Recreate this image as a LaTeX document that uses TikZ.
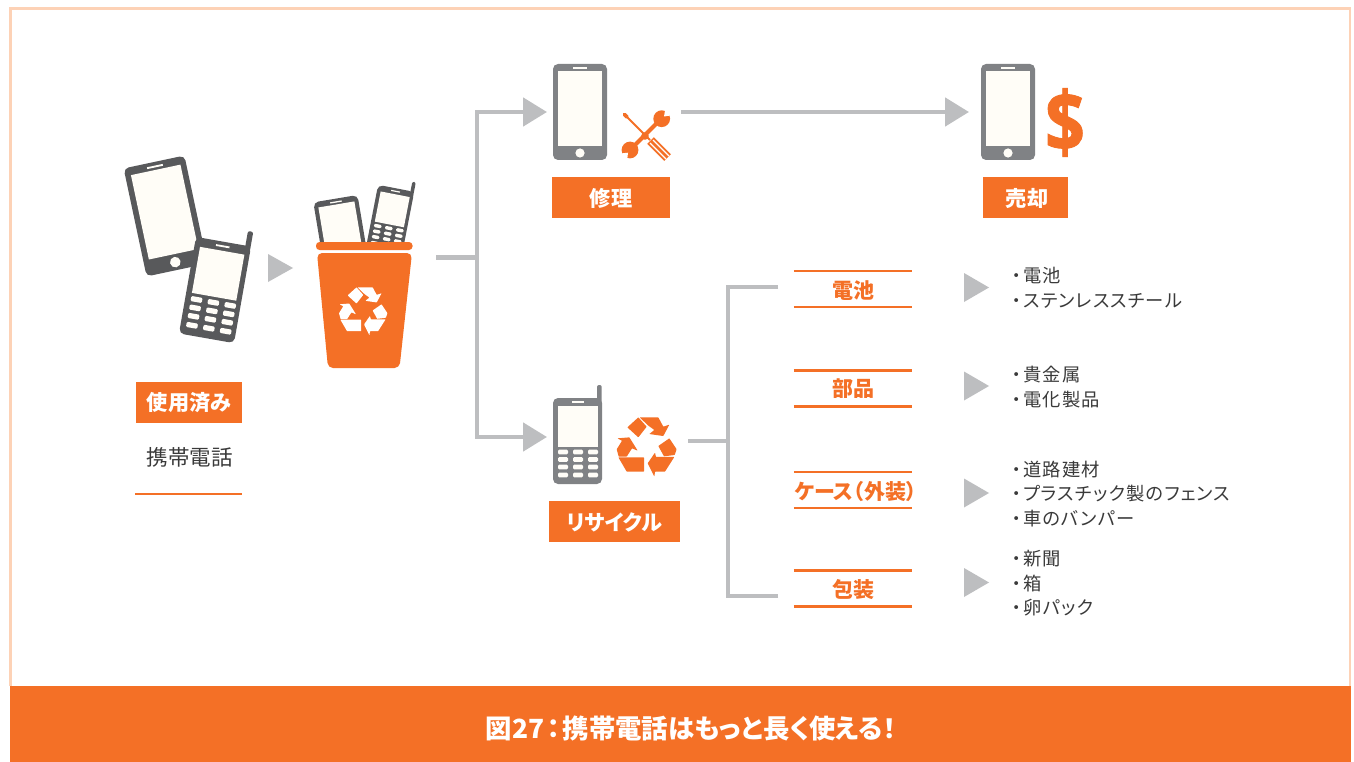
\documentclass[tikz,border=0pt]{standalone}
\usepackage{fontspec}
\setmainfont{Noto Sans CJK JP}[RawFeature=+palt]
\newfontfamily\itemfont{Noto Sans CJK JP}[RawFeature=+palt,LetterSpace=6]
\newfontfamily\dollarfont{Open Sans}[BoldFeatures={FakeBold=1.2}]
\usetikzlibrary{arrows.meta}
\definecolor{brand}{HTML}{F47026}
\definecolor{framec}{HTML}{FDD2B6}
\definecolor{linkc}{HTML}{BDBEC0}
\definecolor{darkph}{HTML}{58595B}
\definecolor{midph}{HTML}{808285}
\definecolor{screenc}{HTML}{FFFDF7}
\definecolor{inkc}{HTML}{3A3A3A}
\newcommand{\lowered}[2]{\raisebox{-#1pt}[0pt][0pt]{#2}}
\newcommand{\itm}[1]{・\kern2pt #1}
\tikzset{
  x=1pt,y=-1pt,
  link/.style={draw=linkc,line width=4.8pt},
  linkarrow/.style={link,-{Triangle[length=24pt,width=28pt]}},
  pointer/.style={fill=linkc},
  tag/.style={fill=brand,text=white,font=\fontsize{21.2}{25}\selectfont\bfseries,inner sep=0pt,minimum height=41pt},
  rule/.style={draw=brand,line width=2.5pt},
  part/.style={text=brand,font=\fontsize{21}{25}\selectfont\bfseries,inner sep=0pt,minimum width=118pt,minimum height=36pt},
  item/.style={text=inkc,font=\itemfont\fontsize{18.3}{22}\selectfont,inner sep=0pt,anchor=west},
  pics/smartphone/.style={code={
    \fill[#1,rounded corners=5pt] (-27,-48) rectangle (27,48);
    \fill[screenc] (-22,-41) rectangle (22,34);
    \fill[screenc] (-7,-44.8) rectangle (7,-43.2);
    \fill[screenc] (0,41) circle (4.6);
  }},
  pics/flipphone/.style={code={
    \fill[#1,rounded corners=2pt] (19.5,-56) rectangle (24.2,-35);
    \fill[#1,rounded corners=5pt] (-24.5,-43) rectangle (24.5,43);
    \fill[screenc] (-19.5,-35) rectangle (20,6);
    \fill[screenc] (-6,-39.8) rectangle (6,-38.2);
    \foreach \kx in {-14.5,0.5,15.5}\foreach \ky in {11,18.5,26,34}{
      \fill[screenc,rounded corners=1.2pt] (\kx-5,\ky-2.3) rectangle (\kx+5,\ky+2.3);
    }
  }},
  pics/recycle/.style={code={
    \begin{scope}[shift={(-111,-108)}]
      \fill[#1,rounded corners=.5pt] (52,52) -- (85,22) -- (110,50) -- (85,82) -- cycle;
      \fill[#1,rounded corners=.5pt] (89,22) -- (145,22) -- (160,50) -- (178,44) -- (160,78) -- (118,72) -- (133,60) -- (114,46) -- cycle;
      \fill[#1,rounded corners=.5pt] (145,108) -- (178,85) -- (200,118) -- (194,135) -- (162,139) -- cycle;
      \fill[#1,rounded corners=.5pt] (193,141) -- (165,185) -- (135,185) -- (133,200) -- (113,160) -- (135,128) -- (138,141) -- cycle;
      \fill[#1,rounded corners=.5pt] (25,142) -- (102,142) -- (102,185) -- (50,185) -- cycle;
      \fill[#1,rounded corners=.5pt] (22,85) -- (58,82) -- (83,122) -- (66,115) -- (50,140) -- (26,140) -- (20,118) -- (36,92) -- cycle;
    \end{scope}
  }}
}
\begin{document}
\begin{tikzpicture}
\useasboundingbox (0,0) rectangle (1354,762);
\fill[white] (0,0) rectangle (1354,762);
% frame and banner
\draw[framec,line width=2.6pt] (10.5,686) -- (10.5,8.5) -- (1350,8.5) -- (1350,686);
\fill[brand] (9.5,685.5) rectangle (1351,762);
\node[text=white,font=\fontsize{26.4}{30}\selectfont\bfseries,inner sep=0pt] (banner) at (691,728.5) {図27\kern3pt：\kern2pt 携帯電話はもっと長く使える！};

% used phones
\pic[rotate=12,scale=1.15] at (165.5,216) {smartphone=darkph};
\pic[rotate=-10,scale=1.14] at (215,290) {flipphone=darkph};
\node[tag,minimum width=106pt] (used) at (189,402.5) {\lowered{8.3}{使用済み}};
\node[text=inkc,font=\fontsize{21.5}{25}\selectfont,inner sep=0pt] (mobile) at (189.5,457) {携帯電話};
\coordinate (ruleL) at (135,494);
\coordinate (ruleR) at (242,494);
\draw[rule] (ruleL) -- (ruleR);
\fill[pointer] (268,254) -- (293,268) -- (268,282) -- cycle;

% bin
\begin{scope}
  \clip (300,170) rectangle (430,243);
  \pic[rotate=9.5,scale=.83] at (342,238) {smartphone=darkph};
  \pic[rotate=-11,scale=.75] at (390,220) {flipphone=darkph};
\end{scope}
\fill[brand,rounded corners=3.5pt] (316,242) rectangle (412.5,250);
\fill[brand,rounded corners=5pt] (317,253) -- (412,253) -- (399.5,368) -- (328,368) -- cycle;
\pic[scale=.269] at (363.5,310.5) {recycle=white};

% connectors
\coordinate (binout) at (436,257.5);
\coordinate (split) at (477,257.5);
\coordinate (repairin) at (547,112);
\coordinate (recyclein) at (547,437);
\coordinate (repairout) at (681,112);
\coordinate (sellin) at (969,112);
\coordinate (recycleout) at (688,441);
\coordinate (split2) at (728,441);
\coordinate (battin) at (778,287);
\coordinate (packin) at (778,596);
\draw[link] (binout) -- (split);
\draw[linkarrow] (split) |- (repairin);
\draw[linkarrow] (split) |- (recyclein);
\draw[linkarrow] (repairout) -- (sellin);
\draw[link] (recycleout) -- (split2);
\draw[link] (battin) -| (split2);
\draw[link] (packin) -| (split2);

% repair
\pic at (580,112) {smartphone=midph};
\draw[brand,line width=2pt] (625,115) -- (650,140);
\draw[brand,line width=3.8pt,line cap=round] (624.5,114.5) -- (627,117);
\draw[brand,line width=9.5pt] (650.5,140.5) -- (667.5,157.5);
\draw[white,line width=1.1pt] (653,140) -- (669,156);
\draw[white,line width=1.1pt] (650,143) -- (666,159);
\draw[brand,line width=4pt] (631,149) -- (660,120);
\fill[brand] (645,136) circle (3.8);
\fill[brand] (630,150) circle (8.4);
\fill[white] (628,152.7) -- (618.5,153.7) -- (626.7,163.7) -- cycle;
\fill[brand] (661.7,118.7) circle (8.4);
\fill[white] (664,116.5) -- (673.5,115) -- (665.5,107.5) -- cycle;
\node[tag,minimum width=118pt] (repair) at (611,197.5) {\lowered{8.8}{修理}};

% sell
\pic at (1008,112) {smartphone=midph};
\node[text=brand,font=\dollarfont\bfseries\fontsize{70}{70}\selectfont,inner sep=0pt] (dollar) at (1065,122.5) {\scalebox{1}[1.19]{\$}};
\node[tag,minimum width=85pt] (sell) at (1025.5,197.5) {\kern3pt\lowered{8.8}{売却}};

% recycle
\pic at (577.5,441) {flipphone=midph};
\pic[scale=.333] at (647,446) {recycle=brand};
\node[tag,minimum width=131pt] (recycling) at (614.5,521.5) {\lowered{8.8}{リサイクル}};

% parts
\node[part] (battery) at (853,289) {\lowered{9.3}{電池}};
\node[part] (parts) at (853,388.5) {\lowered{8.1}{部品}};
\node[part] (case) at (853,490) {\makebox[118pt]{\kern5pt\lowered{9.2}{ケース（外装）}}};
\node[part] (pack) at (853,588.5) {\lowered{9.3}{包装}};
\foreach \n in {battery,parts,case,pack}{
  \draw[rule] (\n.north west) -- (\n.north east);
  \draw[rule] (\n.south west) -- (\n.south east);
}
\foreach \cy in {287.5,386,493,582.5}{
  \fill[pointer] (964,\cy-14.5) -- (989,\cy) -- (964,\cy+14.5) -- cycle;
}
\node[item] (a1) at (1012,275.5) {\itm{電池}};
\node[item] (a2) at (1012,300.7) {\itm{ステンレススチール}};
\node[item] (b1) at (1012,375) {\itm{貴金属}};
\node[item] (b2) at (1012,400) {\itm{電化製品}};
\node[item] (c1) at (1012,469.7) {\itm{道路建材}};
\node[item] (c2) at (1012,493.7) {\itm{プラスチック製のフェンス}};
\node[item] (c3) at (1012,518.7) {\itm{車のバンパー}};
\node[item] (d1) at (1012,558.7) {\itm{新聞}};
\node[item] (d2) at (1012,583.5) {\itm{箱}};
\node[item] (d3) at (1012,607.7) {\itm{卵パック}};
\end{tikzpicture}
\end{document}
